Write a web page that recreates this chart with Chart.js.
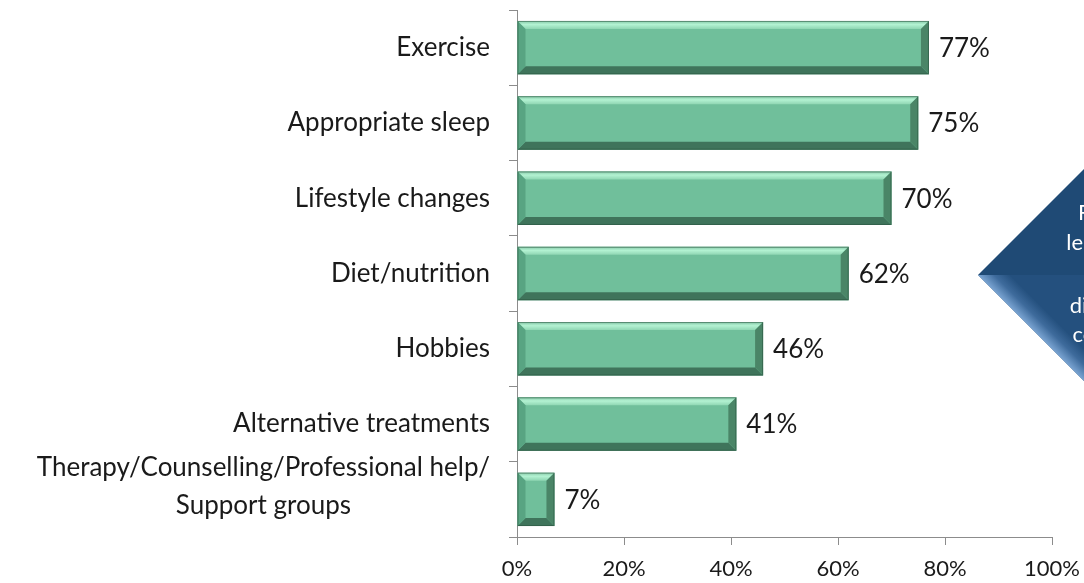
<!DOCTYPE html>
<html>
<head>
<meta charset="utf-8">
<script src="https://cdn.jsdelivr.net/npm/chart.js@4/dist/chart.umd.min.js"></script>
<style>
  html, body { margin: 0; padding: 0; background: #ffffff; }
  #wrap { width: 1084px; height: 583px; }
</style>
</head>
<body>
<div id="wrap"><canvas id="chart" width="1084" height="583"></canvas></div>
<script>
// Coping approaches and the share of respondents using each
const categories = [
  ['Exercise'],
  ['Appropriate sleep'],
  ['Lifestyle changes'],
  ['Diet/nutrition'],
  ['Hobbies'],
  ['Alternative treatments'],
  ['Therapy/Counselling/Professional help/', 'Support groups']
];
const shares = [77, 75, 70, 62, 46, 41, 7];
const axisTicks = [0, 20, 40, 60, 80, 100];
const calloutLines = ['Fewer people', 'leaned toward a', 'formal', 'discussion with', 'counselling aid'];

const FONT = 'Lato, "Open Sans", sans-serif';
const TEXT = '#1a1a1a';

// Bevelled face for every bar, built from the element geometry
const bevelBars = {
  id: 'bevelBars',
  afterDatasetsDraw(chart) {
    const ctx = chart.ctx;
    chart.getDatasetMeta(0).data.forEach(el => {
      const p = el.getProps(['x', 'y', 'base', 'height'], true);
      const L = Math.min(p.base, p.x), R = Math.max(p.base, p.x);
      const T = p.y - p.height / 2, B = p.y + p.height / 2;
      const b = Math.min(8, (R - L) / 2);
      const poly = (pts, fill) => {
        ctx.beginPath();
        ctx.moveTo(pts[0][0], pts[0][1]);
        for (let i = 1; i < pts.length; i++) ctx.lineTo(pts[i][0], pts[i][1]);
        ctx.closePath();
        ctx.fillStyle = fill;
        ctx.fill();
      };
      ctx.save();
      const topGrad = ctx.createLinearGradient(0, T, 0, T + b);
      topGrad.addColorStop(0, '#86c9a8');
      topGrad.addColorStop(0.45, '#b3f2d2');
      topGrad.addColorStop(1, '#8fd6b3');
      poly([[L, T], [R, T], [R - b, T + b], [L + b, T + b]], topGrad);
      poly([[L, B], [R, B], [R - b, B - b], [L + b, B - b]], '#3f745b');
      poly([[L, T], [L + b, T + b], [L + b, B - b], [L, B]], '#58a482');
      poly([[R, T], [R - b, T + b], [R - b, B - b], [R, B]], '#4a8567');
      ctx.strokeStyle = 'rgba(40,80,60,0.55)';
      ctx.lineWidth = 1;
      ctx.strokeRect(L + 0.5, T + 0.5, R - L - 1, B - T - 1);
      ctx.restore();
    });
  }
};

// Percentage printed just past the end of each bar
const valueLabels = {
  id: 'valueLabels',
  afterDatasetsDraw(chart) {
    const ctx = chart.ctx;
    ctx.save();
    ctx.font = '26px ' + FONT;
    ctx.fillStyle = TEXT;
    ctx.textAlign = 'left';
    ctx.textBaseline = 'middle';
    chart.getDatasetMeta(0).data.forEach((el, i) => {
      ctx.fillText(shares[i] + '%', el.x + 10, el.y + 1);
    });
    ctx.restore();
  }
};

// Category names, right aligned to the axis; wrapped names centred on each other
const categoryLabels = {
  id: 'categoryLabels',
  afterDraw(chart) {
    const ctx = chart.ctx;
    const y = chart.scales.y;
    const right = chart.chartArea.left - 27;
    const lh = 38;
    ctx.save();
    ctx.font = '26px ' + FONT;
    ctx.fillStyle = TEXT;
    ctx.textAlign = 'center';
    ctx.textBaseline = 'middle';
    categories.forEach((lines, i) => {
      const cy = y.getPixelForTick(i);
      const w = Math.max(...lines.map(s => ctx.measureText(s).width));
      const cx = right - w / 2;
      const shift = lines.length > 1 ? -13 : 0;
      const y0 = cy + shift - (lines.length - 1) * lh / 2;
      lines.forEach((s, k) => ctx.fillText(s, cx, y0 + k * lh));
    });
    ctx.restore();
  }
};

// Pointer-shaped callout on the right edge
const callout = {
  id: 'callout',
  afterDraw(chart) {
    const ctx = chart.ctx;
    const tipX = 978, tipY = 275, half = 108;
    ctx.save();
    ctx.beginPath();
    ctx.moveTo(tipX, tipY);
    ctx.lineTo(tipX + half, tipY - half);
    ctx.lineTo(tipX + 260, tipY - half);
    ctx.lineTo(tipX + 260, tipY + half);
    ctx.lineTo(tipX + half, tipY + half);
    ctx.closePath();
    ctx.fillStyle = '#1f4a75';
    ctx.fill();
    ctx.clip();
    const mx = tipX + half / 2, my = tipY + half / 2;
    const g = ctx.createLinearGradient(mx, my, mx + 16, my - 16);
    g.addColorStop(0, '#7aa4d2');
    g.addColorStop(0.5, '#3e6b9c');
    g.addColorStop(1, '#24507e');
    ctx.fillStyle = g;
    ctx.fillRect(tipX, tipY, 300, half + 2);
    ctx.restore();

    ctx.save();
    ctx.font = '22px ' + FONT;
    ctx.fillStyle = '#ffffff';
    ctx.textAlign = 'center';
    ctx.textBaseline = 'middle';
    const cx = 1078 + ctx.measureText(calloutLines[0]).width / 2;
    const ys = [213, 243, 273, 306, 335];
    calloutLines.forEach((s, k) => ctx.fillText(s, cx, ys[k]));
    ctx.restore();
  }
};

new Chart(document.getElementById('chart'), {
  type: 'bar',
  data: {
    labels: categories,
    datasets: [{
      data: shares,
      backgroundColor: '#70bf9b',
      borderWidth: 0,
      barPercentage: 1,
      categoryPercentage: 0.71
    }]
  },
  options: {
    indexAxis: 'y',
    responsive: false,
    animation: false,
    events: [],
    layout: { padding: { left: 0, right: 32, top: 10, bottom: 0 } },
    plugins: { legend: { display: false }, tooltip: { enabled: false } },
    scales: {
      x: {
        min: 0,
        max: 100,
        afterBuildTicks: s => { s.ticks = axisTicks.map(v => ({ value: v })); },
        afterFit: s => { s.height = 46; s.paddingLeft = 0; s.paddingRight = 0; },
        ticks: {
          callback: v => v + '%',
          font: { family: FONT, size: 22 },
          color: TEXT,
          padding: 11,
          maxRotation: 0
        },
        grid: { drawOnChartArea: false, tickLength: 8, color: '#8c8c8c' },
        border: { color: '#8c8c8c' }
      },
      y: {
        offset: true,
        afterFit: s => { s.width = 517; },
        ticks: { display: false },
        grid: { drawOnChartArea: false, offset: true, tickLength: 8, color: '#8c8c8c' },
        border: { color: '#8c8c8c' }
      }
    }
  },
  plugins: [bevelBars, valueLabels, categoryLabels, callout]
});
</script>
</body>
</html>
